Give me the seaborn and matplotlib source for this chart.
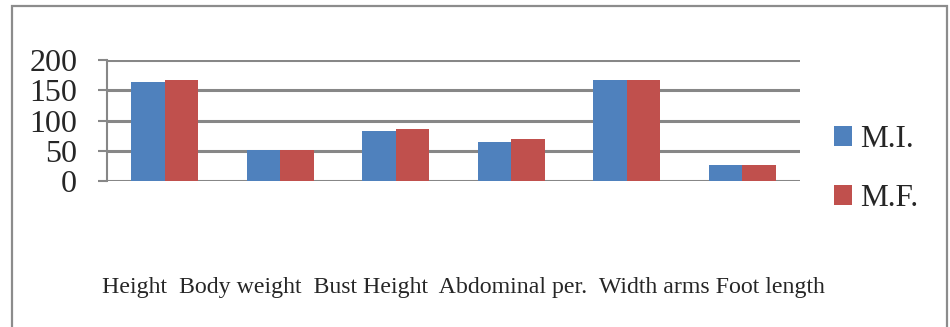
import seaborn as sns
import matplotlib.pyplot as plt
import pandas as pd
from matplotlib.patches import Rectangle, Patch

categories = ["Height", "Body weight", "Bust Height", "Abdominal per.", "Width arms", "Foot length"]
series = ["M.I.", "M.F."]
mi_values = [164, 51, 83, 65, 167, 26]
mf_values = [167, 51, 86, 69, 167, 26]
yticks = [0, 50, 100, 150, 200]
colors = ["#4F81BD", "#C0504D"]

df = pd.DataFrame({
    "category": categories * 2,
    "value": mi_values + mf_values,
    "series": [series[0]] * len(categories) + [series[1]] * len(categories),
})

sns.set_style("white")
plt.rcParams['font.family'] = ['Liberation Serif', 'DejaVu Serif']

fig = plt.figure(figsize=(9.5, 3.27), dpi=100)
ax = fig.add_axes([107 / 950, 1 - 181 / 327, (800 - 107) / 950, 121 / 327])

sns.barplot(data=df, x="category", y="value", hue="series", order=categories,
            hue_order=series, palette=colors, saturation=1, width=0.58, gap=0,
            edgecolor="none", legend=False, ax=ax, zorder=3)

grid_c = "#878787"
ax.set_ylim(0, 200)
ax.set_xlim(-0.5, len(categories) - 0.5)
ax.set_yticks(yticks)
ax.set_yticklabels([str(t) for t in yticks], fontsize=23)
ax.yaxis.grid(True, color=grid_c, linewidth=2.2, zorder=0)
ax.set_axisbelow(True)
ax.tick_params(axis="y", length=6.5, width=1.5, color=grid_c, pad=15, direction="out", left=True)
ax.tick_params(axis="x", bottom=False, labelbottom=False)
ax.set_xlabel("")
ax.set_ylabel("")
for s in ["top", "right", "bottom"]:
    ax.spines[s].set_visible(False)
ax.spines["left"].set_color(grid_c)
ax.spines["left"].set_linewidth(1.5)

# category names written as one line far below the plot
fig.text(102 / 950, 1 - 287 / 327, "  ".join(categories[:-1]) + " " + categories[-1],
         ha="left", va="center", fontsize=17.2)

handles = [Patch(facecolor=c, edgecolor="none") for c in colors]
fig.legend(handles, series, loc="center left", bbox_to_anchor=(834 / 950, 1 - 169 / 327),
           frameon=False, fontsize=22.5, handlelength=0.58, handleheight=0.58,
           handletextpad=0.25, labelspacing=0.95, borderpad=0, borderaxespad=0)

fig.patches.append(Rectangle((11.5 / 950, -0.1), (947 - 11.5) / 950, 1.1 - 6 / 327,
                             transform=fig.transFigure, fill=False,
                             edgecolor="#8c8c8c", linewidth=1.6))

fig.savefig("out.png", dpi=100)
